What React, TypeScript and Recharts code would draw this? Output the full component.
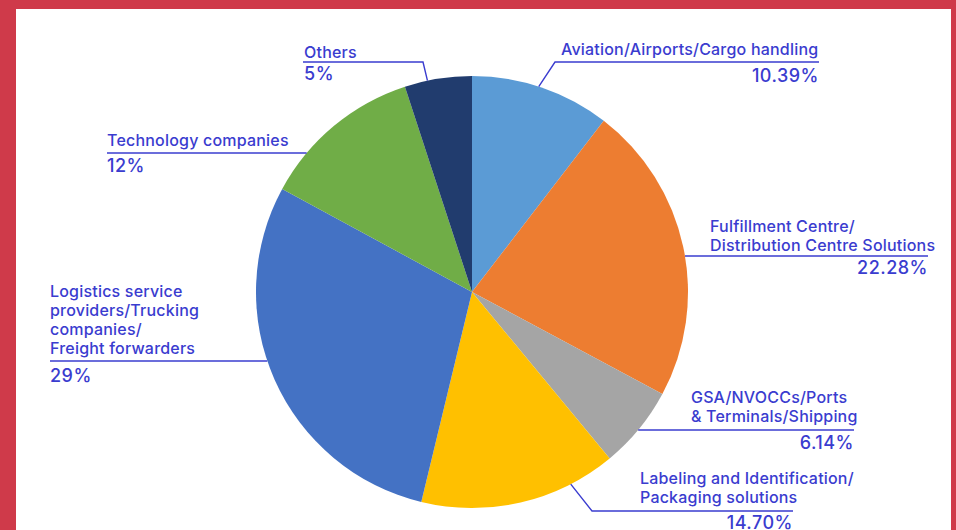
import { PieChart, Pie, Cell } from 'recharts';

const categories = [
  'Aviation/Airports/Cargo handling',
  'Fulfillment Centre/Distribution Centre Solutions',
  'GSA/NVOCCs/Ports & Terminals/Shipping',
  'Labeling and Identification/Packaging solutions',
  'Logistics service providers/Trucking companies/Freight forwarders',
  'Technology companies',
  'Others',
];
const shares = [10.39, 22.28, 6.14, 14.7, 29, 12, 5];
const shareLabels = ['10.39%', '22.28%', '6.14%', '14.70%', '29%', '12%', '5%'];
const nameLines = [
  ['Aviation/Airports/Cargo handling'],
  ['Fulfillment Centre/', 'Distribution Centre Solutions'],
  ['GSA/NVOCCs/Ports', '& Terminals/Shipping'],
  ['Labeling and Identification/', 'Packaging solutions'],
  ['Logistics service', 'providers/Trucking', 'companies/', 'Freight forwarders'],
  ['Technology companies'],
  ['Others'],
];

const COLORS = ['#5b9bd5', '#ed7d31', '#a5a5a5', '#ffc000', '#4472c4', '#70ad47', '#213c6e'];
const TEXT = '#3a3ccf';

const data = categories.map((name, i) => ({ name, value: shares[i] }));

// label placement, offsets from pie centre
type Place = {
  nameX: number;
  nameY: number;
  lineY: number;
  farX: number;
  pctX: number;
  pctAnchor: 'start' | 'end';
  pctY: number;
  elbowX?: number;
  angle?: number;
};
const places: Place[] = [
  { nameX: 89, nameY: -237, lineY: -230, farX: 347, pctX: 347, pctAnchor: 'end', pctY: -210, elbowX: 83, angle: 72 },
  { nameX: 238, nameY: -60, lineY: -36, farX: 456, pctX: 456, pctAnchor: 'end', pctY: -18 },
  { nameX: 219, nameY: 111, lineY: 138, farX: 382, pctX: 382, pctAnchor: 'end', pctY: 157 },
  { nameX: 168, nameY: 192, lineY: 219, farX: 321, pctX: 321, pctAnchor: 'end', pctY: 237, elbowX: 120, angle: -62.8 },
  { nameX: -422, nameY: 5, lineY: 69, farX: -422, pctX: -422, pctAnchor: 'start', pctY: 90 },
  { nameX: -365, nameY: -146, lineY: -139, farX: -365, pctX: -365, pctAnchor: 'start', pctY: -120 },
  { nameX: -168, nameY: -234, lineY: -230, farX: -169, pctX: -168, pctAnchor: 'start', pctY: -212, elbowX: -49, angle: 101.9 },
];

function SliceLabel(props: any) {
  const { cx, cy, outerRadius, index } = props;
  const p = places[index];
  const r = outerRadius;
  const y = cy + p.lineY;
  let pts: [number, number][];
  if (p.angle !== undefined && p.elbowX !== undefined) {
    const a = (p.angle * Math.PI) / 180;
    pts = [
      [cx + r * Math.cos(a), cy - r * Math.sin(a)],
      [cx + p.elbowX, y],
      [cx + p.farX, y],
    ];
  } else {
    const dx = Math.sqrt(Math.max(0, r * r - p.lineY * p.lineY));
    const ex = p.farX > 0 ? cx + dx : cx - dx;
    pts = [
      [ex, y],
      [cx + p.farX, y],
    ];
  }
  return (
    <g>
      <polyline
        points={pts.map((q) => q.join(',')).join(' ')}
        fill="none"
        stroke={TEXT}
        strokeWidth={1.4}
      />
      {nameLines[index].map((line, k) => (
        <text
          key={k}
          x={cx + p.nameX}
          y={cy + p.nameY + k * 19}
          textAnchor="start"
          fill={TEXT}
          fontSize={16}
          fontWeight={500}
          letterSpacing={0.2}
          fontFamily="Inter, sans-serif"
        >
          {line}
        </text>
      ))}
      <text
        x={cx + p.pctX}
        y={cy + p.pctY}
        textAnchor={p.pctAnchor}
        fill={TEXT}
        fontSize={18}
        fontWeight={500}
        letterSpacing={0.5}
        fontFamily="Inter, sans-serif"
      >
        {shareLabels[index]}
      </text>
    </g>
  );
}

export default function App() {
  return (
    <div style={{ position: 'fixed', left: 0, top: 0, width: 956, height: 530, background: '#cf3a4a', overflow: 'hidden' }}>
      <div style={{ position: 'absolute', left: 16, top: 9, width: 935, height: 521, background: '#ffffff' }} />
      <div style={{ position: 'absolute', left: 0, top: 0 }}>
        <PieChart width={956} height={530} margin={{ top: 0, right: 0, bottom: 0, left: 0 }}>
          <Pie
            data={data}
            dataKey="value"
            nameKey="name"
            cx={472}
            cy={292}
            outerRadius={216}
            startAngle={90}
            endAngle={-270}
            stroke="none"
            label={SliceLabel}
            labelLine={false}
            isAnimationActive={false}
          >
            {data.map((d, i) => (
              <Cell key={d.name} fill={COLORS[i]} />
            ))}
          </Pie>
        </PieChart>
      </div>
    </div>
  );
}
